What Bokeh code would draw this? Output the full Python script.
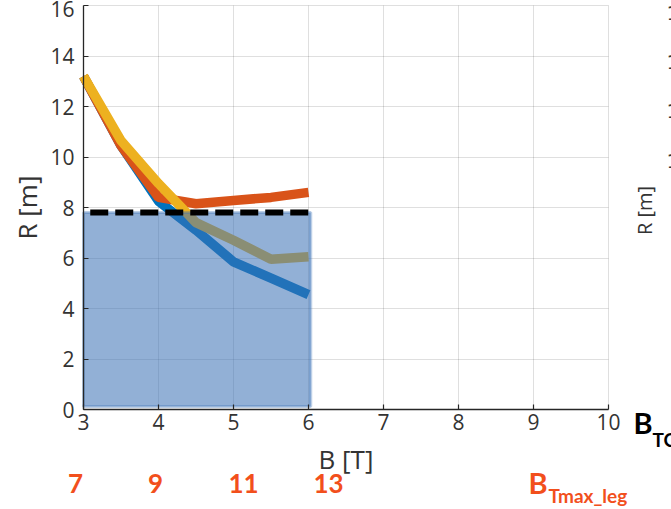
import math
from bokeh.plotting import figure
from bokeh.models import Range1d, Label, FixedTicker, LinearAxis, Grid
from bokeh.embed import file_html
from bokeh.resources import INLINE

# ---- data ----
B_field = [3.0, 3.5, 4.0, 4.5, 5.0, 5.5, 6.0]
R_blue = [13.2, 10.45, 8.25, 7.1, 5.85, 5.2, 4.55]
R_orange = [13.2, 10.45, 8.4, 8.15, 8.28, 8.4, 8.6]
R_yellow = [13.2, 10.65, 8.95, 7.4, 6.7, 5.95, 6.05]
R_limit = 7.8
limit_B = [3.09, 6.09]
region_B = [3.0, 6.03]
region_R = [0.12, 7.8]
x_ticks = [3, 4, 5, 6, 7, 8, 9, 10]
y_ticks = [0, 2, 4, 6, 8, 10, 12, 14, 16]
b_tmax_leg = ["7", "9", "11", "13"]
right_panel_ticks = ["16", "14", "12", "10"]

# ---- styling / layout ----
AX = "#262626"
TICK_FONT = "Open Sans"
RED = "#F24F1C"
W, H = 671, 509
# plot box: B 3..10 over px 83..608, R 0..16 over px 409..5
PX_X = 75.0
PX_Y = 25.25
x0 = 3 - 83 / PX_X
x1 = 10 + (W - 608) / PX_X
y0 = 0 - (H - 409) / PX_Y
y1 = 16 + 5 / PX_Y

p = figure(width=W, height=H, output_backend="svg", toolbar_location=None,
           x_range=Range1d(x0, x1), y_range=Range1d(y0, y1),
           x_axis_type=None, y_axis_type=None,
           min_border_left=0, min_border_right=0, min_border_top=0,
           min_border_bottom=0, outline_line_color=None,
           background_fill_color="white", border_fill_color="white")

xt = FixedTicker(ticks=x_ticks)
yt = FixedTicker(ticks=y_ticks)

p.add_layout(Grid(dimension=0, ticker=xt, bounds=(3, 10), cross_bounds=(0, 16),
                  grid_line_color=AX, grid_line_alpha=0.15, grid_line_width=1))
p.add_layout(Grid(dimension=1, ticker=yt, bounds=(0, 16), cross_bounds=(3, 10),
                  grid_line_color=AX, grid_line_alpha=0.15, grid_line_width=1))

# lines (drawn first, region patch drawn over them)
LW = 9.5
p.line(B_field, R_blue, line_color="#0072BD", line_width=LW)
p.line(B_field, R_orange, line_color="#D95319", line_width=LW)
p.line(B_field, R_yellow, line_color="#EDB120", line_width=LW)

p.quad(left=region_B[0], right=region_B[1], bottom=region_R[0], top=region_R[1],
       fill_color="#3D72B6", fill_alpha=0.56,
       line_color="#3D72B6", line_alpha=0.35, line_width=3)

p.line(limit_B, [R_limit, R_limit], line_color="black", line_width=6,
       line_dash="18 7")

# axes at fixed positions of the plot box
xaxis = LinearAxis(ticker=xt, fixed_location=0, bounds=(3, 10), axis_label="B [T]")
yaxis = LinearAxis(ticker=yt, fixed_location=3, bounds=(0, 16), axis_label="R [m]")
for ax in (xaxis, yaxis):
    ax.axis_line_color = AX
    ax.axis_line_width = 1.3
    ax.major_tick_line_color = AX
    ax.major_tick_line_width = 1.2
    ax.major_tick_in = 5
    ax.major_tick_out = 0
    ax.minor_tick_line_color = None
    ax.major_label_text_font = TICK_FONT
    ax.major_label_text_font_size = "21px"
    ax.major_label_text_color = "#333333"
    ax.axis_label_text_font = TICK_FONT
    ax.axis_label_text_font_size = "26px"
    ax.axis_label_text_font_style = "normal"
    ax.axis_label_text_color = "#333333"
xaxis.major_label_standoff = 4
xaxis.axis_label_standoff = 8
yaxis.major_label_standoff = 9
yaxis.axis_label_standoff = 2
p.add_layout(xaxis, "below")
p.add_layout(yaxis, "left")

# ---- annotations (screen px: x from left, y from bottom) ----
def lab(txt, x, y, size, color, align="left", font="Lato", bold=True, angle=0.0):
    p.add_layout(Label(x=x, y=y, x_units="screen", y_units="screen", text=txt,
                       text_font=font, text_font_style="bold" if bold else "normal",
                       text_font_size=size, text_color=color, text_align=align,
                       text_baseline="middle", angle=angle))

leg_x = [75, 155, 243, 328]
for txt, xs in zip(b_tmax_leg, leg_x):
    lab(txt, xs, 26, "26px", RED, align="center")

lab("B", 528, 27, "29px", RED)
lab("Tmax_leg", 548, 14, "19px", RED)

lab("B", 633, 87, "29px", "black")
lab("TC", 652, 70, "19px", "black")

# neighbouring panel (cut off at the right edge)
lab("R [m]", 644, 299, "20px", "#333333", align="center", font=TICK_FONT,
    bold=False, angle=math.pi / 2)
for txt, ys in zip(right_panel_ticks, [497, 448, 399, 349]):
    lab(txt, 666, ys, "20px", "#333333", font="DejaVu Sans", bold=False)

open("out.html", "w").write(file_html(p, INLINE))
